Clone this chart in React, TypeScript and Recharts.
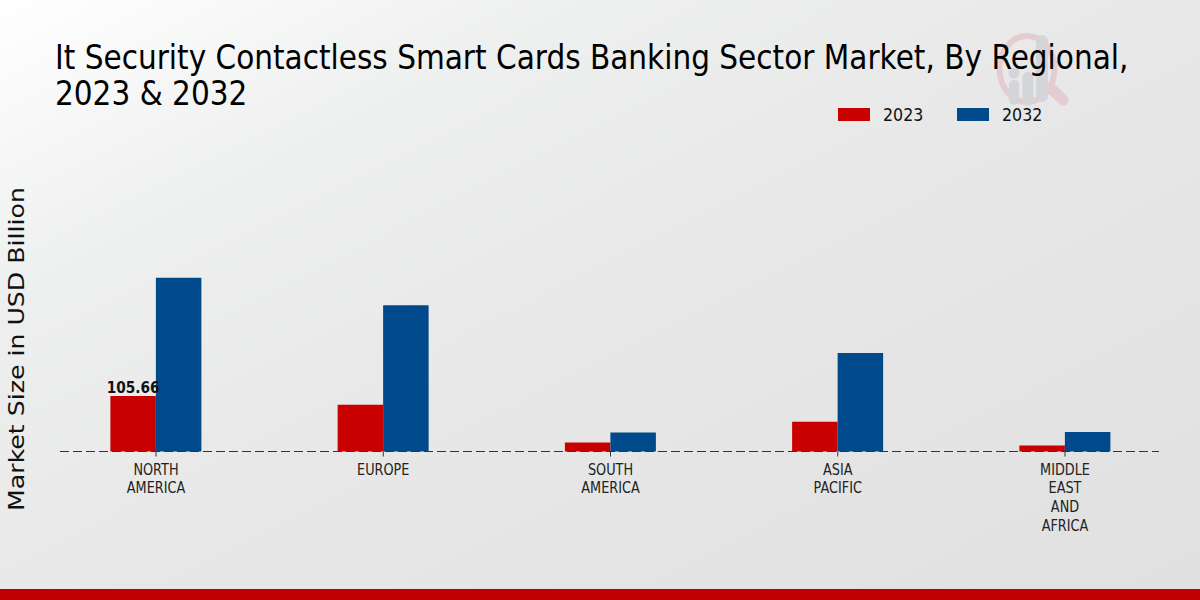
import { Bar, BarChart, LabelList, Legend, XAxis, YAxis } from "recharts";

const regions = ["NORTH AMERICA", "EUROPE", "SOUTH AMERICA", "ASIA PACIFIC", "MIDDLE EAST AND AFRICA"];
const values2023 = [105.66, 88.7, 17, 56.6, 11.3];
const values2032 = [330, 278, 36, 187, 37];
const labels2023 = [105.66, null, null, null, null];
const titleLines = ["It Security Contactless Smart Cards Banking Sector Market, By Regional,", "2023 & 2032"];

const RED = "#c80000";
const BLUE = "#004a8c";
const FONT = "'DejaVu Sans'";
// the reference text is regular DejaVu squeezed sideways
const SQUEEZE = 0.857;

const rows = regions.map((region, i) => ({
  region,
  y2023: values2023[i],
  y2032: values2032[i],
  label: labels2023[i],
}));

function RegionTick({ x, y, payload }: any) {
  return (
    <g>
      <line x1={x} x2={x} y1={y - 8} y2={y - 3} stroke="#333" />
      <g transform={`translate(${x},${y + 15}) scale(${SQUEEZE},1)`}>
        <text x={0} y={0} textAnchor="middle" fontSize={15} fill="#222" fontFamily={FONT}>
          {payload.value.split(" ").map((word: string, i: number) => (
            <tspan key={word} x={0} dy={i === 0 ? 0 : 18.9}>
              {word}
            </tspan>
          ))}
        </text>
      </g>
    </g>
  );
}

function ValueLabel({ x, y, width, value }: any) {
  if (value == null) return null;
  return (
    <g transform={`translate(${x + width / 2},${y - 3}) scale(${SQUEEZE},1)`}>
      <text x={0} y={0} textAnchor="middle" fontSize={16} fontWeight={700} fill="#111" fontFamily={FONT}>
        {value}
      </text>
    </g>
  );
}

function KeyRow() {
  const items = [
    { name: "2023", color: RED, left: 838 },
    { name: "2032", color: BLUE, left: 957 },
  ];
  return (
    <>
      {items.map((item) => (
        <div key={item.name}>
          <div style={{ position: "absolute", left: item.left, top: 108, width: 32, height: 13, background: item.color }} />
          <div
            style={{
              position: "absolute",
              left: item.left + 45,
              top: 102,
              fontSize: 18.5,
              lineHeight: "26px",
              color: "#111",
              fontFamily: FONT,
              transform: `scaleX(${SQUEEZE})`,
              transformOrigin: "left center",
            }}
          >
            {item.name}
          </div>
        </div>
      ))}
    </>
  );
}

function Watermark() {
  return (
    <svg width={1200} height={600} style={{ position: "absolute", left: 0, top: 0 }}>
      <ellipse cx={1027} cy={69} rx={27.5} ry={33} fill="none" stroke="#e4cdd0" strokeWidth={6} />
      <line x1={1053} y1={90} x2={1063} y2={100} stroke="#e4cdd0" strokeWidth={11} strokeLinecap="round" />
      <g stroke="#d3d5d9" strokeLinecap="round">
        <line x1={1014} y1={85} x2={1014} y2={100} strokeWidth={10} />
        <line x1={1014} y1={73} x2={1014} y2={73} strokeWidth={11} />
        <line x1={1028} y1={77} x2={1028} y2={100} strokeWidth={11} />
        <line x1={1042} y1={41} x2={1042} y2={96} strokeWidth={12} />
      </g>
    </svg>
  );
}

export default function App() {
  return (
    <div
      style={{
        position: "absolute",
        left: 0,
        top: 0,
        width: 1200,
        height: 600,
        overflow: "hidden",
        background: "linear-gradient(153deg, #ffffff 0%, #eeefef 25%, #e8e8e8 50%, #e0e0e0 100%)",
      }}
    >
      <Watermark />
      {titleLines.map((line, i) => (
        <div
          key={line}
          style={{
            position: "absolute",
            left: 55,
            top: 39 + i * 36,
            whiteSpace: "nowrap",
            fontSize: 34.5,
            lineHeight: "36px",
            color: "#000",
            fontFamily: FONT,
            transform: `scaleX(${SQUEEZE})`,
            transformOrigin: "left top",
          }}
        >
          {line}
        </div>
      ))}
      <div
        style={{
          position: "absolute",
          left: 17,
          top: 348.5,
          transform: `translate(-50%, -50%) rotate(-90deg) scaleY(${SQUEEZE})`,
          whiteSpace: "nowrap",
          fontFamily: FONT,
          fontSize: 25.2,
          color: "#111",
        }}
      >
        Market Size in USD Billion
      </div>
      <BarChart
        width={1200}
        height={600}
        data={rows}
        barGap={0}
        margin={{ top: 100, right: 41, bottom: 0, left: 60 }}
        style={{ position: "absolute", left: 0, top: 0 }}
      >
        <YAxis hide domain={[0, 668]} />
        <Legend content={<KeyRow />} wrapperStyle={{ left: 0, top: 0, bottom: "auto", width: 1200, height: 0 }} />
        <Bar dataKey="y2023" fill={RED} barSize={45.5} isAnimationActive={false}>
          <LabelList dataKey="label" content={<ValueLabel />} />
        </Bar>
        <Bar dataKey="y2032" fill={BLUE} barSize={45.5} isAnimationActive={false} />
        <XAxis
          dataKey="region"
          scale="point"
          padding={{ left: 96, right: 94 }}
          interval={0}
          height={148.5}
          tickLine={false}
          tick={<RegionTick />}
          axisLine={{ stroke: "#333", strokeDasharray: "9 4" }}
        />
      </BarChart>
      <div style={{ position: "absolute", left: 0, top: 589, width: 1200, height: 11, background: "#c00000" }} />
    </div>
  );
}
